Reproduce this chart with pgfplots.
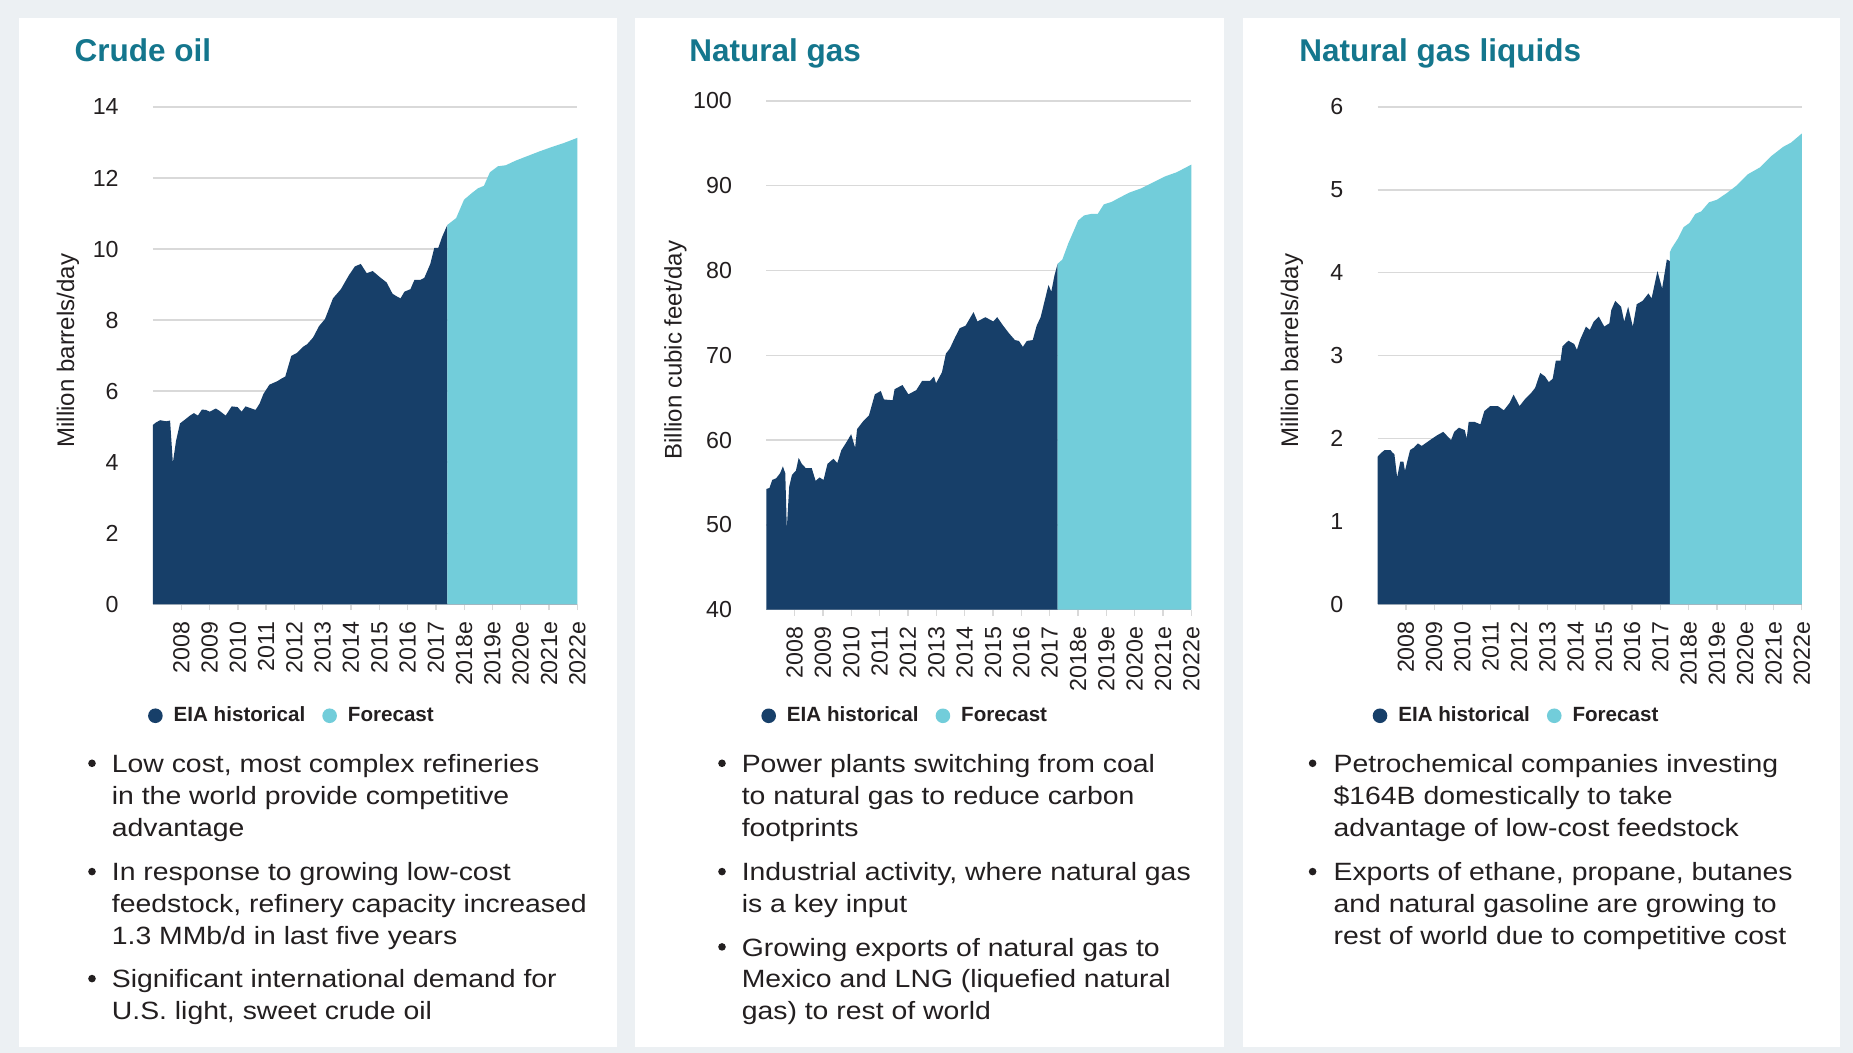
\documentclass[border=0pt]{standalone}
\usepackage{pgfplots}
\pgfplotsset{compat=1.18}
\usepackage{fontspec}
\setmainfont{Liberation Sans}
\newfontfamily\bodyfont[FakeStretch=1.135]{Liberation Sans}
\definecolor{navy}{RGB}{23,63,105}
\definecolor{cyanf}{RGB}{114,205,218}
\definecolor{titlecol}{RGB}{20,118,141}
\definecolor{bgc}{RGB}{236,240,243}
\definecolor{txt}{RGB}{35,31,32}
\definecolor{gridc}{RGB}{217,217,217}
\definecolor{axc}{RGB}{170,180,190}

\pgfplotsset{
  panel/.style={
    scale only axis,
    xmin=0, xmax=15,
    xtick={1,...,15},
    xticklabels={2008,2009,2010,2011,2012,2013,2014,2015,2016,2017,2018e,2019e,2020e,2021e,2022e},
    tick align=outside,
    major tick length=3pt,
    axis x line*=bottom,
    axis y line*=left,
    x axis line style={draw=axc, line width=0.7pt},
    y axis line style={draw=none},
    ytick style={draw=none},
    xtick style={draw=gridc, line width=0.65pt},
    ymajorgrids,
    grid style={draw=gridc, line width=0.65pt},
    /pgf/number format/assume math mode=true,
    ticklabel style={font=\fontsize{11.6pt}{13pt}\selectfont, text=txt},
    xticklabel style={rotate=90, anchor=east, inner sep=0pt},
    xticklabel shift=5.4pt,
    yticklabel style={inner sep=0pt},
    yticklabel shift=14pt,
    legend columns=2,
    legend style={draw=none, fill=none, inner sep=0pt, anchor=west,
      font=\fontsize{10.3pt}{12pt}\selectfont\bfseries, text=txt,
      nodes={inner sep=0pt},
      /tikz/every odd column/.style={column sep=5.5pt},
      /tikz/every even column/.style={column sep=8.5pt}},
    legend image code/.code={\fill[#1] (3.65pt,0pt) circle (3.65pt);},
  }
}

\newcommand{\bl}[3]{\node[anchor=base west, inner sep=0pt, text=txt, font=\bodyfont\fontsize{12.5pt}{15pt}\selectfont] at (#1pt,#2pt) {#3};}
\newcommand{\bdot}[2]{\fill[txt] (#1pt,#2pt+4.7pt) circle (1.9pt);}

\begin{document}
\begin{tikzpicture}
\fill[bgc] (0,0) rectangle (926.5pt,526.5pt);
\fill[white] (9.5pt,3pt) rectangle (308.5pt,517.5pt);
\fill[white] (317.5pt,3pt) rectangle (612pt,517.5pt);
\fill[white] (621.5pt,3pt) rectangle (920pt,517.5pt);

% titles
\node[anchor=base west, inner sep=0pt, text=titlecol, font=\fontsize{15.75pt}{18pt}\selectfont\bfseries] at (37.15pt,495.65pt) {Crude oil};
\node[anchor=base west, inner sep=0pt, text=titlecol, font=\fontsize{15.75pt}{18pt}\selectfont\bfseries] at (344.5pt,495.65pt) {Natural gas};
\node[anchor=base west, inner sep=0pt, text=titlecol, font=\fontsize{15.75pt}{18pt}\selectfont\bfseries] at (649.5pt,495.65pt) {Natural gas liquids};

% ---------------- Crude oil ----------------
\begin{axis}[panel,
  at={(76.5pt,224.4pt)}, anchor=south west,
  width=212.15pt, height=248.6pt,
  ymin=0, ymax=14, ytick={0,2,...,14},
  ylabel={Million barrels/day},
  every axis y label/.style={at={(axis description cs:-0.2003,0.51)}, rotate=90, anchor=center, font=\fontsize{12pt}{14pt}\selectfont, text=txt},
  legend style={at={(axis description cs:-0.0125,-0.2244)}},
]
\addplot[fill=navy, draw=none] coordinates {
(0.000,5.05) (0.112,5.12) (0.253,5.18) (0.463,5.15) (0.604,5.17) (0.702,3.98) (0.815,4.60) (0.955,5.09)
(1.166,5.22) (1.306,5.31) (1.447,5.38) (1.587,5.31) (1.728,5.48) (1.868,5.47) (2.008,5.42) (2.219,5.51)
(2.360,5.44) (2.570,5.31) (2.781,5.57) (2.992,5.55) (3.132,5.42) (3.272,5.57) (3.483,5.51) (3.624,5.47)
(3.764,5.64) (3.904,5.92) (4.115,6.18) (4.396,6.28) (4.537,6.35) (4.677,6.41) (4.888,6.99) (5.098,7.08)
(5.309,7.25) (5.449,7.32) (5.660,7.51) (5.871,7.83) (6.081,8.03) (6.362,8.61) (6.643,8.87) (6.924,9.26)
(7.135,9.51) (7.346,9.58) (7.556,9.32) (7.767,9.38) (8.048,9.19) (8.258,9.06) (8.469,8.74) (8.610,8.67)
(8.750,8.61) (8.890,8.80) (9.101,8.87) (9.242,9.13) (9.452,9.13) (9.593,9.19) (9.803,9.58) (9.944,10.03)
(10.084,10.03) (10.225,10.35) (10.407,10.68)
} \closedcycle;
\addlegendentry{EIA historical}
\addplot[fill=cyanf, draw=none] coordinates {
(10.407,10.68) (10.716,10.87) (10.997,11.39) (11.278,11.58) (11.489,11.71) (11.699,11.78) (11.910,12.16)
(12.191,12.33) (12.472,12.36) (12.823,12.49) (13.244,12.62) (13.666,12.75) (14.087,12.87) (14.508,12.98) (15.0,13.13)
} \closedcycle;
\addlegendentry{Forecast}
\end{axis}

% ---------------- Natural gas ----------------
\begin{axis}[panel,
  at={(383.15pt,221.65pt)}, anchor=south west,
  width=212.55pt, height=254.35pt,
  ymin=40, ymax=100, ytick={40,50,...,100},
  ylabel={Billion cubic feet/day},
  every axis y label/.style={at={(axis description cs:-0.2138,0.51)}, rotate=90, anchor=center, font=\fontsize{12pt}{14pt}\selectfont, text=txt},
  legend style={at={(axis description cs:-0.0125,-0.2086)}},
]
\addplot[fill=navy, draw=none] coordinates {
(0.000,54.24) (0.111,54.35) (0.209,55.3) (0.348,55.5) (0.487,56.1) (0.585,56.9) (0.669,56.1) (0.724,49.6)
(0.808,54.5) (0.905,55.9) (1.045,56.4) (1.142,57.9) (1.253,57.2) (1.393,56.7) (1.602,56.7) (1.741,55.2)
(1.880,55.6) (2.019,55.3) (2.159,57.2) (2.368,57.8) (2.507,57.3) (2.646,58.8) (2.855,59.9) (2.994,60.7)
(3.134,59.1) (3.203,61.3) (3.412,62.2) (3.621,62.9) (3.830,65.4) (4.039,65.8) (4.150,64.8) (4.457,64.7)
(4.526,66.0) (4.805,66.5) (5.014,65.4) (5.292,65.9) (5.501,67.0) (5.780,67.0) (5.919,67.5) (5.989,66.7)
(6.198,68.0) (6.337,70.2) (6.476,70.8) (6.657,72.1) (6.825,73.2) (7.033,73.5) (7.312,75.1) (7.451,74.0)
(7.730,74.5) (8.008,74.0) (8.148,74.5) (8.357,73.5) (8.565,72.6) (8.774,71.8) (8.914,71.7) (9.053,71.0)
(9.192,71.7) (9.401,71.8) (9.540,73.5) (9.680,74.5) (9.819,76.4) (9.958,78.3) (10.056,77.5) (10.167,79.4)
(10.279,80.8)
} \closedcycle;
\addlegendentry{EIA historical}
\addplot[fill=cyanf, draw=none] coordinates {
(10.279,80.8) (10.446,81.3) (10.655,83.2) (10.864,84.8) (11.003,85.9) (11.212,86.5) (11.490,86.7) (11.699,86.7)
(11.908,87.8) (12.187,88.1) (12.465,88.6) (12.813,89.2) (13.231,89.7) (13.649,90.4) (14.067,91.1) (14.485,91.6) (15.0,92.5)
} \closedcycle;
\addlegendentry{Forecast}
\end{axis}

% ---------------- NGL ----------------
\begin{axis}[panel,
  at={(688.8pt,224.4pt)}, anchor=south west,
  width=212.1pt, height=248.6pt,
  ymin=0, ymax=6, ytick={0,1,...,6},
  ylabel={Million barrels/day},
  every axis y label/.style={at={(axis description cs:-0.2023,0.51)}, rotate=90, anchor=center, font=\fontsize{12pt}{14pt}\selectfont, text=txt},
  legend style={at={(axis description cs:-0.0125,-0.2244)}},
]
\addplot[fill=navy, draw=none] coordinates {
(0.000,1.78) (0.138,1.83) (0.249,1.86) (0.456,1.86) (0.525,1.83) (0.594,1.81) (0.691,1.53) (0.802,1.72)
(0.912,1.72) (0.967,1.61) (1.147,1.86) (1.285,1.89) (1.423,1.94) (1.562,1.91) (1.769,1.96) (1.935,2.00)
(2.114,2.04) (2.322,2.08) (2.598,1.98) (2.709,2.08) (2.875,2.13) (3.082,2.10) (3.151,2.00) (3.220,2.20)
(3.427,2.20) (3.635,2.17) (3.773,2.33) (3.980,2.39) (4.256,2.39) (4.464,2.34) (4.671,2.43) (4.809,2.53)
(5.017,2.39) (5.224,2.48) (5.431,2.55) (5.569,2.61) (5.749,2.79) (5.915,2.75) (6.053,2.68) (6.191,2.72)
(6.302,2.94) (6.468,2.94) (6.537,3.11) (6.744,3.18) (6.951,3.14) (7.048,3.07) (7.159,3.19) (7.366,3.35)
(7.504,3.31) (7.642,3.41) (7.822,3.47) (8.016,3.35) (8.195,3.39) (8.264,3.55) (8.402,3.66) (8.610,3.59)
(8.720,3.41) (8.859,3.59) (9.024,3.35) (9.163,3.62) (9.370,3.66) (9.577,3.75) (9.688,3.69) (9.895,4.02)
(10.061,3.81) (10.227,4.16) (10.337,4.14)
} \closedcycle;
\addlegendentry{EIA historical}
\addplot[fill=cyanf, draw=none] coordinates {
(10.337,4.25) (10.406,4.30) (10.614,4.41) (10.821,4.55) (11.028,4.60) (11.236,4.71) (11.443,4.74) (11.719,4.85)
(11.996,4.88) (12.341,4.96) (12.687,5.05) (13.101,5.19) (13.516,5.27) (13.930,5.41) (14.345,5.52) (14.621,5.57) (15.0,5.68)
} \closedcycle;
\addlegendentry{Forecast}
\end{axis}

% ---------------- bullet text ----------------
\bdot{46}{140.15}\bl{55.75}{140.15}{Low cost, most complex refineries}
\bl{55.75}{124.3}{in the world provide competitive}
\bl{55.75}{108.45}{advantage}
\bdot{46}{86.0}\bl{55.75}{86.0}{In response to growing low-cost}
\bl{55.75}{70.15}{feedstock, refinery capacity increased}
\bl{55.75}{54.3}{1.3 MMb/d in last five years}
\bdot{46}{32.5}\bl{55.75}{32.5}{Significant international demand for}
\bl{55.75}{16.65}{U.S. light, sweet crude oil}

\bdot{361}{140.15}\bl{370.7}{140.15}{Power plants switching from coal}
\bl{370.7}{124.3}{to natural gas to reduce carbon}
\bl{370.7}{108.45}{footprints}
\bdot{361}{86.0}\bl{370.7}{86.0}{Industrial activity, where natural gas}
\bl{370.7}{70.15}{is a key input}
\bdot{361}{48.35}\bl{370.7}{48.35}{Growing exports of natural gas to}
\bl{370.7}{32.5}{Mexico and LNG (liquefied natural}
\bl{370.7}{16.65}{gas) to rest of world}

\bdot{656.3}{140.15}\bl{666.6}{140.15}{Petrochemical companies investing}
\bl{666.6}{124.3}{\$164B domestically to take}
\bl{666.6}{108.45}{advantage of low-cost feedstock}
\bdot{656.3}{86.0}\bl{666.6}{86.0}{Exports of ethane, propane, butanes}
\bl{666.6}{70.15}{and natural gasoline are growing to}
\bl{666.6}{54.3}{rest of world due to competitive cost}

\pgfresetboundingbox
\useasboundingbox (0,0) rectangle (926.5pt,526.5pt);
\end{tikzpicture}
\end{document}
